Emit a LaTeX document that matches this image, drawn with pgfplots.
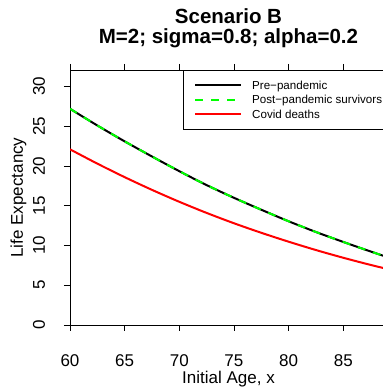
\documentclass[border=0pt]{standalone}
\usepackage{fontspec}
\setmainfont{Liberation Sans}
\usepackage{pgfplots}
\pgfplotsset{compat=1.18}
\definecolor{rgreen}{RGB}{0,255,0}
\definecolor{rred}{RGB}{255,0,0}
\begin{document}
\begin{tikzpicture}
\begin{axis}[name=ax, scale only axis, width=327.9pt, height=255pt,
  xmin=60, xmax=90, ymin=0, ymax=32.08,
  xtick={60,65,...,85}, ytick={0,5,...,30},
  tick align=outside, major tick length=6pt,
  tick style={black, line width=0.8pt},
  axis line style={line width=0.8pt},
  /pgf/number format/assume math mode=true,
  ticklabel style={font=\fontsize{17}{20}\selectfont},
  xticklabel style={anchor=base, yshift=-35pt},
  yticklabel style={xshift=-19pt, rotate=90, anchor=base},
  xlabel={Initial Age, x}, ylabel={Life Expectancy},
  label style={font=\fontsize{17}{20}\selectfont},
  xlabel style={at={([yshift=-58pt]axis description cs:0.4834,0)}, anchor=base},
  ylabel style={at={([xshift=-47pt]axis description cs:0,0.5)}, anchor=base},
  legend cell align=left,
  legend image code/.code={\draw[#1, line width=2pt] (0pt,0pt) -- (46pt,0pt);},
  legend style={at={(axis description cs:0.3446,1)}, anchor=north west,
    draw=black, fill=white, inner xsep=11pt, inner ysep=8pt,
    column sep=10pt,
    font=\fontsize{11.6}{14}\selectfont,
    nodes={inner sep=0pt, text height=11.35pt, text depth=2.95pt}},
]
\addplot[black, line width=2pt, smooth] coordinates {
(60,27.2) (62.5,25.1) (65,23.1) (67.5,21.2) (70,19.35) (72.5,17.6) (75,16.0)
(77.5,14.5) (80,13.05) (82.5,11.7) (85,10.45) (87.5,9.25) (90,8.1)};
\addlegendentry{Pre−pandemic}
\addplot[rgreen, line width=2pt, dash pattern=on 8pt off 8pt, smooth] coordinates {
(60,27.2) (62.5,25.1) (65,23.1) (67.5,21.2) (70,19.35) (72.5,17.6) (75,16.0)
(77.5,14.5) (80,13.05) (82.5,11.7) (85,10.45) (87.5,9.25) (90,8.1)};
\addlegendentry{Post−pandemic survivors}
\addplot[rred, line width=2pt, smooth] coordinates {
(60,22.1) (62.5,20.3) (65,18.6) (67.5,17.0) (70,15.5) (72.5,14.1) (75,12.8)
(77.5,11.6) (80,10.48) (82.5,9.43) (85,8.46) (87.5,7.56) (90,6.73)};
\addlegendentry{Covid deaths}
\end{axis}
\node[anchor=base, font=\fontsize{20.5}{24}\selectfont\bfseries] at ([shift={(158.5pt,301pt)}]ax.south west) {Scenario B};
\node[anchor=base, font=\fontsize{20.5}{24}\selectfont\bfseries] at ([shift={(158.5pt,281pt)}]ax.south west) {M=2; sigma=0.8; alpha=0.2};
\pgfresetboundingbox
\path[use as bounding box] ([shift={(-70pt,-62pt)}]ax.south west) rectangle ([shift={(312pt,325pt)}]ax.south west);
\end{tikzpicture}
\end{document}
